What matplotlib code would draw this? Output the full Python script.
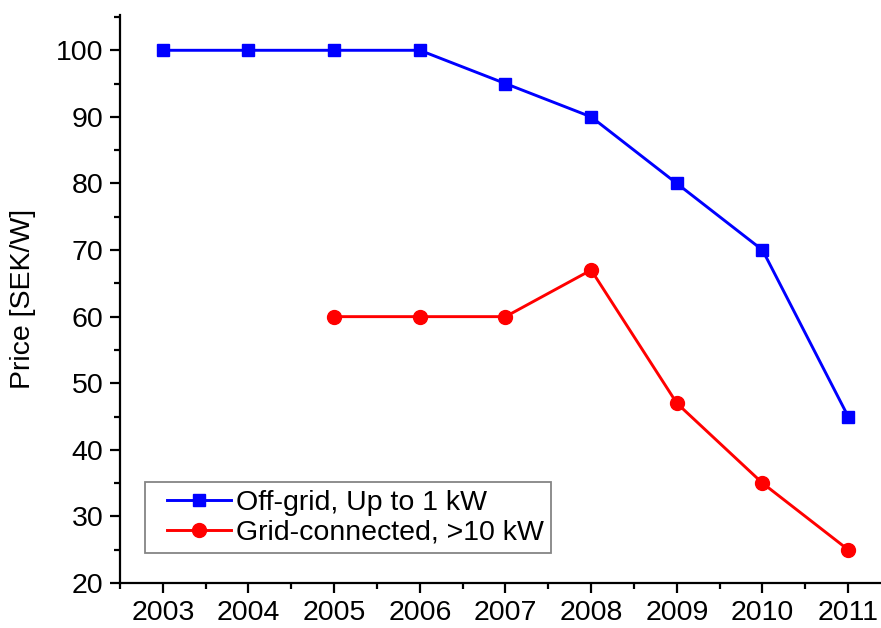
import matplotlib.pyplot as plt
from matplotlib.ticker import MultipleLocator
from matplotlib.legend_handler import HandlerLine2D

plt.rcParams['font.family'] = ['Liberation Sans', 'DejaVu Sans']

years_off = [2003, 2004, 2005, 2006, 2007, 2008, 2009, 2010, 2011]
price_off = [100, 100, 100, 100, 95, 90, 80, 70, 45]
years_grid = [2005, 2006, 2007, 2008, 2009, 2010, 2011]
price_grid = [60, 60, 60, 67, 47, 35, 25]

fig = plt.figure(figsize=(8.81, 6.28), dpi=100)
# axes runs slightly past the right edge, as in the original
ax = fig.add_axes([120 / 881, 45 / 628, 771 / 881, 568 / 628])

l1, = ax.plot(years_off, price_off, color='#0000ff', lw=2.1, marker='s', ms=8.5,
              label='Off-grid, Up to 1 kW')
l2, = ax.plot(years_grid, price_grid, color='#ff0000', lw=2.1, marker='o', ms=10,
              label='Grid-connected, >10 kW')

ax.set_xlim(2002.5, 2011.5)
ax.set_ylim(20, 105.3)
ax.xaxis.set_major_locator(MultipleLocator(1))
ax.xaxis.set_minor_locator(MultipleLocator(0.5))
ax.yaxis.set_major_locator(MultipleLocator(10))
ax.yaxis.set_minor_locator(MultipleLocator(5))

for s in ['top', 'right']:
    ax.spines[s].set_visible(False)
for s in ['left', 'bottom']:
    ax.spines[s].set_linewidth(1.6)

ax.tick_params(which='major', length=7, width=1.6, labelsize=20.5, pad=5)
ax.tick_params(which='minor', length=4, width=1.6)
ax.set_ylabel('Price [SEK/W]', fontsize=20.5, labelpad=14)

# extra space left of the legend lines
hl = {l1: HandlerLine2D(xpad=0.53), l2: HandlerLine2D(xpad=0.53)}
leg = ax.legend(loc='lower left', bbox_to_anchor=(0.032, 0.053), fontsize=20.5,
                frameon=True, fancybox=False, edgecolor='#666666',
                handlelength=2.77, handletextpad=0.2, borderpad=0.25,
                labelspacing=0.15, borderaxespad=0, handler_map=hl)
leg.get_frame().set_linewidth(1.3)

plt.savefig('out.png', dpi=100)
